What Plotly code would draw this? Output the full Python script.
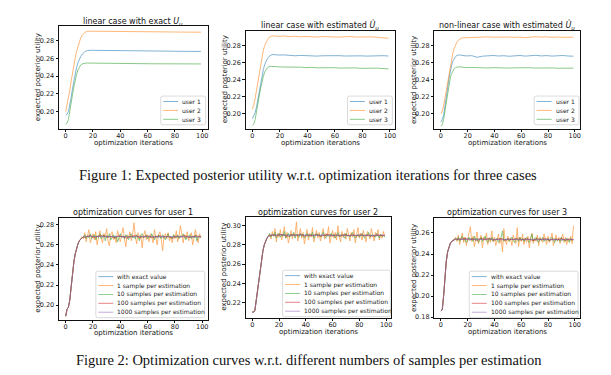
import plotly.graph_objects as go

W, H = 611, 375
COLORS = ['#1f77b4', '#ff7f0e', '#2ca02c', '#d62728', '#9467bd']
FONT = 'DejaVu Sans'

# ---------------- Figure 1 data (top row) ----------------
top_iters = list(range(17)) + list(range(19, 100, 4))

exact_u1 = [0.196, 0.197, 0.200, 0.207, 0.216, 0.226, 0.235, 0.243, 0.250, 0.255, 0.259, 0.262,
            0.2645, 0.2662, 0.2675, 0.2683, 0.2688,
            0.2691, 0.2690, 0.2688, 0.2686, 0.2684, 0.2683, 0.2682, 0.2682, 0.2681, 0.2681, 0.2680,
            0.2680, 0.2680, 0.2680, 0.2679, 0.2679, 0.2679, 0.2679, 0.2679, 0.2678, 0.2678]
exact_u2 = [0.200, 0.207, 0.215, 0.224, 0.234, 0.244, 0.253, 0.261, 0.268, 0.274, 0.279, 0.283,
            0.2858, 0.2878, 0.2892, 0.2900, 0.2904,
            0.2906, 0.2906, 0.2905, 0.2905, 0.2904, 0.2903, 0.2902, 0.2902, 0.2901, 0.2900, 0.2900,
            0.2899, 0.2899, 0.2898, 0.2898, 0.2897, 0.2897, 0.2896, 0.2896, 0.2895, 0.2895]
exact_u3 = [0.186, 0.187, 0.191, 0.199, 0.209, 0.219, 0.228, 0.236, 0.242, 0.247, 0.2505, 0.2525,
            0.2537, 0.2543, 0.2546, 0.2547, 0.2547,
            0.2546, 0.2545, 0.2544, 0.2543, 0.2542, 0.2542, 0.2541, 0.2541, 0.2540, 0.2540, 0.2540,
            0.2539, 0.2539, 0.2539, 0.2539, 0.2538, 0.2538, 0.2538, 0.2538, 0.2538, 0.2537]

lin_est_u1 = [0.194, 0.197, 0.201, 0.208, 0.217, 0.227, 0.237, 0.245, 0.252, 0.258, 0.262, 0.265,
              0.267, 0.2685, 0.2692, 0.2695, 0.2693,
              0.2688, 0.2690, 0.2683, 0.2680, 0.2684, 0.2679, 0.2681, 0.2676, 0.2680, 0.2683, 0.2678,
              0.2681, 0.2677, 0.2680, 0.2684, 0.2679, 0.2676, 0.2680, 0.2678, 0.2681, 0.2677]
lin_est_u2 = [0.205, 0.210, 0.218, 0.228, 0.239, 0.250, 0.260, 0.268, 0.275, 0.280, 0.284, 0.287,
              0.2893, 0.2905, 0.2912, 0.2914, 0.2912,
              0.2908, 0.2912, 0.2905, 0.2909, 0.2903, 0.2907, 0.2904, 0.2900, 0.2906, 0.2902, 0.2905,
              0.2899, 0.2903, 0.2906, 0.2900, 0.2903, 0.2898, 0.2902, 0.2896, 0.2890, 0.2885]
lin_est_u3 = [0.186, 0.188, 0.193, 0.201, 0.211, 0.221, 0.230, 0.238, 0.244, 0.249, 0.252, 0.2540,
              0.2550, 0.2555, 0.2556, 0.2554, 0.2552,
              0.2550, 0.2547, 0.2549, 0.2543, 0.2546, 0.2540, 0.2544, 0.2538, 0.2541, 0.2537, 0.2540,
              0.2535, 0.2538, 0.2534, 0.2537, 0.2532, 0.2535, 0.2531, 0.2534, 0.2529, 0.2526]

nl_est_u1 = [0.190, 0.193, 0.198, 0.207, 0.218, 0.230, 0.241, 0.250, 0.257, 0.262, 0.265, 0.267,
             0.2685, 0.2692, 0.2690, 0.2686, 0.2682,
             0.2678, 0.2681, 0.2662, 0.2675, 0.2679, 0.2683, 0.2677, 0.2680, 0.2674, 0.2679, 0.2683,
             0.2676, 0.2680, 0.2685, 0.2678, 0.2682, 0.2676, 0.2679, 0.2683, 0.2677, 0.2675]
nl_est_u2 = [0.200, 0.203, 0.209, 0.218, 0.228, 0.238, 0.248, 0.257, 0.265, 0.272, 0.277, 0.281,
             0.2840, 0.2862, 0.2878, 0.2885, 0.2890,
             0.2893, 0.2897, 0.2895, 0.2899, 0.2902, 0.2898, 0.2901, 0.2897, 0.2900, 0.2896, 0.2899,
             0.2893, 0.2897, 0.2904, 0.2899, 0.2902, 0.2896, 0.2901, 0.2897, 0.2900, 0.2898]
nl_est_u3 = [0.185, 0.187, 0.193, 0.203, 0.215, 0.226, 0.235, 0.242, 0.247, 0.251, 0.2530, 0.2542,
             0.2548, 0.2550, 0.2549, 0.2546, 0.2543,
             0.2540, 0.2543, 0.2539, 0.2541, 0.2536, 0.2540, 0.2537, 0.2539, 0.2535, 0.2538, 0.2540,
             0.2536, 0.2539, 0.2535, 0.2538, 0.2534, 0.2537, 0.2533, 0.2536, 0.2532, 0.2534]

# ---------------- Figure 2 data (bottom row) ----------------
bottom_iters = list(range(100))
sparse_iters = list(range(15)) + list(range(15, 100, 3))

u1_rise = [0.189, 0.196, 0.198, 0.205, 0.218, 0.232, 0.243, 0.251, 0.257, 0.261, 0.264, 0.266, 0.267, 0.2675, 0.268]
u2_rise = [0.210, 0.210, 0.212, 0.222, 0.234, 0.246, 0.257, 0.266, 0.274, 0.280, 0.284, 0.287, 0.289, 0.2897, 0.290]
u3_rise = [0.186, 0.187, 0.200, 0.218, 0.233, 0.242, 0.247, 0.250, 0.252, 0.253, 0.2535, 0.254, 0.2542, 0.2541, 0.254]

u1_s1 = [0.189, 0.196, 0.198, 0.205, 0.218, 0.232, 0.243, 0.251, 0.257, 0.261,
         0.264, 0.266, 0.268, 0.266, 0.272, 0.263, 0.270, 0.275, 0.262, 0.268,
         0.271, 0.265, 0.273, 0.260, 0.269, 0.274, 0.266, 0.262, 0.271, 0.268,
         0.276, 0.264, 0.259, 0.270, 0.273, 0.265, 0.268, 0.262, 0.274, 0.269,
         0.263, 0.271, 0.277, 0.266, 0.258, 0.270, 0.267, 0.273, 0.264, 0.270,
         0.282, 0.268, 0.261, 0.272, 0.266, 0.270, 0.257, 0.269, 0.274, 0.265,
         0.270, 0.263, 0.271, 0.268, 0.262, 0.275, 0.267, 0.260, 0.270, 0.273,
         0.265, 0.254, 0.269, 0.271, 0.266, 0.272, 0.264, 0.268, 0.262, 0.270,
         0.266, 0.274, 0.263, 0.269, 0.279, 0.268, 0.262, 0.270, 0.266, 0.273,
         0.264, 0.269, 0.272, 0.260, 0.270, 0.275, 0.267, 0.262, 0.271, 0.268]
u1_s10 = [0.189, 0.196, 0.198, 0.205, 0.218, 0.232, 0.243, 0.251, 0.257, 0.261,
          0.264, 0.266, 0.267, 0.268, 0.270, 0.266, 0.269, 0.267, 0.271, 0.266,
          0.268, 0.270, 0.265, 0.269, 0.267, 0.271, 0.266, 0.268, 0.270, 0.264,
          0.269, 0.267, 0.271, 0.265, 0.268, 0.270, 0.266, 0.269, 0.263, 0.268,
          0.271, 0.267, 0.269, 0.266, 0.270, 0.268, 0.265, 0.269, 0.271, 0.267,
          0.268, 0.266, 0.270, 0.268, 0.264, 0.269, 0.271, 0.267, 0.268, 0.270,
          0.266, 0.269, 0.267, 0.271, 0.268, 0.265, 0.269, 0.267, 0.270, 0.268,
          0.266, 0.270, 0.268, 0.265, 0.269, 0.271, 0.267, 0.268, 0.266, 0.270,
          0.268, 0.267, 0.270, 0.266, 0.269, 0.268, 0.271, 0.267, 0.265, 0.269,
          0.268, 0.270, 0.266, 0.269, 0.267, 0.270, 0.264, 0.268, 0.269, 0.267]
u1_exact_tail = [0.2682, 0.2684, 0.2684, 0.2683, 0.2683, 0.2682, 0.2682, 0.2681, 0.2681, 0.2681,
                 0.2681, 0.2680, 0.2680, 0.2680, 0.2680, 0.2680, 0.2680, 0.2679, 0.2679, 0.2679,
                 0.2679, 0.2679, 0.2679, 0.2679, 0.2678, 0.2678, 0.2678, 0.2678, 0.2678]
u1_s100_tail = [0.2680, 0.2692, 0.2671, 0.2686, 0.2695, 0.2674, 0.2683, 0.2669, 0.2690, 0.2678,
                0.2665, 0.2684, 0.2693, 0.2672, 0.2681, 0.2688, 0.2670, 0.2679, 0.2691, 0.2675,
                0.2684, 0.2668, 0.2686, 0.2677, 0.2694, 0.2673, 0.2682, 0.2689, 0.2676]
u1_s1000_tail = [0.2683, 0.2686, 0.2680, 0.2684, 0.2679, 0.2685, 0.2681, 0.2678, 0.2684, 0.2680,
                 0.2683, 0.2677, 0.2682, 0.2685, 0.2679, 0.2681, 0.2684, 0.2678, 0.2682, 0.2680,
                 0.2683, 0.2677, 0.2681, 0.2684, 0.2679, 0.2682, 0.2678, 0.2681, 0.2680]

u2_s1 = [0.210, 0.210, 0.212, 0.222, 0.234, 0.246, 0.257, 0.266, 0.274, 0.280,
         0.284, 0.287, 0.289, 0.291, 0.286, 0.294, 0.289, 0.297, 0.283, 0.292,
         0.288, 0.296, 0.285, 0.291, 0.299, 0.287, 0.293, 0.282, 0.290, 0.295,
         0.286, 0.292, 0.289, 0.304, 0.284, 0.291, 0.297, 0.287, 0.293, 0.281,
         0.290, 0.296, 0.285, 0.292, 0.288, 0.298, 0.283, 0.291, 0.295, 0.287,
         0.293, 0.284, 0.290, 0.297, 0.286, 0.292, 0.289, 0.299, 0.282, 0.291,
         0.295, 0.287, 0.293, 0.285, 0.300, 0.289, 0.283, 0.294, 0.288, 0.292,
         0.286, 0.297, 0.290, 0.284, 0.293, 0.288, 0.296, 0.282, 0.291, 0.298,
         0.287, 0.292, 0.285, 0.295, 0.289, 0.283, 0.294, 0.290, 0.286, 0.297,
         0.288, 0.284, 0.293, 0.289, 0.296, 0.285, 0.291, 0.287, 0.294, 0.289]
u2_s10 = [0.210, 0.210, 0.212, 0.222, 0.234, 0.246, 0.257, 0.266, 0.274, 0.280,
          0.284, 0.287, 0.289, 0.292, 0.288, 0.291, 0.289, 0.293, 0.287, 0.290,
          0.292, 0.288, 0.291, 0.289, 0.294, 0.287, 0.290, 0.292, 0.288, 0.291,
          0.289, 0.293, 0.287, 0.291, 0.290, 0.288, 0.292, 0.289, 0.291, 0.287,
          0.290, 0.292, 0.288, 0.291, 0.289, 0.293, 0.287, 0.290, 0.292, 0.289,
          0.291, 0.288, 0.290, 0.293, 0.289, 0.287, 0.291, 0.290, 0.288, 0.292,
          0.289, 0.291, 0.287, 0.290, 0.293, 0.288, 0.290, 0.291, 0.289, 0.287,
          0.292, 0.289, 0.290, 0.288, 0.291, 0.293, 0.289, 0.287, 0.290, 0.291,
          0.288, 0.290, 0.292, 0.289, 0.287, 0.291, 0.290, 0.293, 0.288, 0.290,
          0.291, 0.289, 0.288, 0.292, 0.290, 0.287, 0.291, 0.289, 0.290, 0.288]
u2_exact_tail = [0.2903, 0.2905, 0.2905, 0.2904, 0.2904, 0.2903, 0.2903, 0.2902, 0.2902, 0.2901,
                 0.2901, 0.2901, 0.2900, 0.2900, 0.2900, 0.2899, 0.2899, 0.2899, 0.2899, 0.2898,
                 0.2898, 0.2898, 0.2898, 0.2897, 0.2897, 0.2897, 0.2897, 0.2897, 0.2896]
u2_s100_tail = [0.2905, 0.2893, 0.2910, 0.2899, 0.2888, 0.2906, 0.2896, 0.2911, 0.2891, 0.2902,
                0.2895, 0.2908, 0.2889, 0.2900, 0.2907, 0.2894, 0.2903, 0.2890, 0.2909, 0.2897,
                0.2904, 0.2892, 0.2906, 0.2896, 0.2901, 0.2888, 0.2905, 0.2898, 0.2900]
u2_s1000_tail = [0.2902, 0.2899, 0.2904, 0.2900, 0.2897, 0.2903, 0.2899, 0.2905, 0.2898, 0.2901,
                 0.2896, 0.2902, 0.2899, 0.2904, 0.2898, 0.2901, 0.2897, 0.2903, 0.2900, 0.2896,
                 0.2902, 0.2899, 0.2904, 0.2898, 0.2901, 0.2897, 0.2902, 0.2899, 0.2900]

u3_s1 = [0.186, 0.187, 0.200, 0.218, 0.233, 0.242, 0.247, 0.250, 0.252, 0.253,
         0.254, 0.256, 0.252, 0.258, 0.249, 0.255, 0.260, 0.251, 0.256, 0.248,
         0.254, 0.259, 0.266, 0.252, 0.257, 0.247, 0.255, 0.261, 0.250, 0.254,
         0.258, 0.246, 0.256, 0.253, 0.260, 0.249, 0.255, 0.251, 0.262, 0.252,
         0.256, 0.248, 0.254, 0.259, 0.250, 0.255, 0.242, 0.264, 0.253, 0.249,
         0.257, 0.252, 0.255, 0.248, 0.258, 0.253, 0.250, 0.265, 0.247, 0.256,
         0.252, 0.259, 0.249, 0.255, 0.251, 0.257, 0.246, 0.254, 0.260, 0.250,
         0.255, 0.252, 0.258, 0.248, 0.256, 0.253, 0.251, 0.259, 0.254, 0.249,
         0.257, 0.251, 0.255, 0.260, 0.248, 0.254, 0.258, 0.252, 0.256, 0.250,
         0.254, 0.259, 0.251, 0.256, 0.249, 0.255, 0.252, 0.257, 0.250, 0.267]
u3_s10 = [0.186, 0.187, 0.200, 0.218, 0.233, 0.242, 0.247, 0.250, 0.252, 0.253,
          0.254, 0.255, 0.253, 0.256, 0.252, 0.254, 0.257, 0.253, 0.255, 0.251,
          0.254, 0.256, 0.253, 0.255, 0.252, 0.257, 0.253, 0.255, 0.251, 0.254,
          0.256, 0.252, 0.254, 0.257, 0.253, 0.251, 0.255, 0.253, 0.256, 0.252,
          0.254, 0.253, 0.255, 0.251, 0.254, 0.256, 0.262, 0.252, 0.254, 0.253,
          0.255, 0.252, 0.254, 0.256, 0.253, 0.251, 0.255, 0.254, 0.252, 0.256,
          0.253, 0.255, 0.252, 0.254, 0.256, 0.253, 0.251, 0.255, 0.259, 0.252,
          0.254, 0.256, 0.253, 0.251, 0.255, 0.253, 0.256, 0.252, 0.254, 0.253,
          0.255, 0.252, 0.254, 0.256, 0.253, 0.251, 0.255, 0.253, 0.254, 0.252,
          0.256, 0.253, 0.254, 0.252, 0.255, 0.253, 0.251, 0.255, 0.253, 0.254]
u3_exact_tail = [0.2543, 0.2544, 0.2543, 0.2542, 0.2542, 0.2541, 0.2541, 0.2540, 0.2540, 0.2540,
                 0.2539, 0.2539, 0.2539, 0.2538, 0.2538, 0.2538, 0.2538, 0.2537, 0.2537, 0.2537,
                 0.2537, 0.2536, 0.2536, 0.2536, 0.2536, 0.2536, 0.2535, 0.2535, 0.2535]
u3_s100_tail = [0.2540, 0.2551, 0.2533, 0.2545, 0.2528, 0.2548, 0.2536, 0.2553, 0.2531, 0.2542,
                0.2549, 0.2529, 0.2544, 0.2537, 0.2552, 0.2532, 0.2546, 0.2539, 0.2527, 0.2547,
                0.2535, 0.2550, 0.2530, 0.2543, 0.2538, 0.2549, 0.2533, 0.2541, 0.2536]
u3_s1000_tail = [0.2540, 0.2537, 0.2542, 0.2538, 0.2535, 0.2541, 0.2537, 0.2543, 0.2536, 0.2539,
                 0.2534, 0.2540, 0.2537, 0.2542, 0.2536, 0.2539, 0.2535, 0.2541, 0.2538, 0.2534,
                 0.2540, 0.2537, 0.2542, 0.2536, 0.2539, 0.2535, 0.2540, 0.2537, 0.2538]

user_labels = ['user 1', 'user 2', 'user 3']
sample_labels = ['with exact value', '1 sample per estimation', '10 samples per estimation',
                 '100 samples per estimation', '1000 samples per estimation']


def px(x):
    return x / W


def py(y):
    return 1 - y / H


# panel layout in pixels: (left, right, top, bottom), y range, y ticks, title, legend box (left, top, width)
panels = [
    dict(box=(51, 200, 18, 122), yr=(0.1807, 0.2967), yt=[0.20, 0.22, 0.24, 0.26, 0.28],
         title='linear case with exact <i>U<sub>u</sub></i>', ty=14, leg=(153, 89, 45)),
    dict(box=(238, 388, 23, 122), yr=(0.1822, 0.2974), yt=[0.20, 0.22, 0.24, 0.26, 0.28],
         title='linear case with estimated <i>Û<sub>u</sub></i>', ty=17, leg=(340, 89, 45)),
    dict(box=(427, 573, 23, 122), yr=(0.1822, 0.2974), yt=[0.20, 0.22, 0.24, 0.26, 0.28],
         title='non-linear case with estimated <i>Û<sub>u</sub></i>', ty=17, leg=(527, 89, 45)),
    dict(box=(51, 200, 212, 315), yr=(0.1856, 0.2869), yt=[0.20, 0.22, 0.24, 0.26, 0.28],
         title='optimization curves for user 1', ty=207, leg=(88, 266, 109)),
    dict(box=(238, 384, 211, 313), yr=(0.2042, 0.3093), yt=[0.22, 0.24, 0.26, 0.28, 0.30],
         title='optimization curves for user 2', ty=207, leg=(275, 265, 108)),
    dict(box=(427, 573, 212, 313), yr=(0.1795, 0.2745), yt=[0.18, 0.20, 0.22, 0.24, 0.26],
         title='optimization curves for user 3', ty=207, leg=(462, 266, 109)),
]

series = [
    [(top_iters, exact_u1), (top_iters, exact_u2), (top_iters, exact_u3)],
    [(top_iters, lin_est_u1), (top_iters, lin_est_u2), (top_iters, lin_est_u3)],
    [(top_iters, nl_est_u1), (top_iters, nl_est_u2), (top_iters, nl_est_u3)],
    [(sparse_iters, u1_rise + u1_exact_tail), (bottom_iters, u1_s1), (bottom_iters, u1_s10),
     (sparse_iters, u1_rise + u1_s100_tail), (sparse_iters, u1_rise + u1_s1000_tail)],
    [(sparse_iters, u2_rise + u2_exact_tail), (bottom_iters, u2_s1), (bottom_iters, u2_s10),
     (sparse_iters, u2_rise + u2_s100_tail), (sparse_iters, u2_rise + u2_s1000_tail)],
    [(sparse_iters, u3_rise + u3_exact_tail), (bottom_iters, u3_s1), (bottom_iters, u3_s10),
     (sparse_iters, u3_rise + u3_s100_tail), (sparse_iters, u3_rise + u3_s1000_tail)],
]

fig = go.Figure()
shapes, annotations = [], []

for i, (p, lines) in enumerate(zip(panels, series), start=1):
    sfx = '' if i == 1 else str(i)
    for k, (xs, ys) in enumerate(lines):
        fig.add_trace(go.Scatter(x=xs, y=ys, mode='lines', showlegend=False, opacity=0.7,
                                 line=dict(color=COLORS[k], width=0.8),
                                 xaxis='x' + sfx, yaxis='y' + sfx))
    l, r, t, b = p['box']
    axis_style = dict(showline=True, mirror=True, linecolor='#111', linewidth=0.8,
                      ticks='outside', ticklen=2.5, tickwidth=0.6, tickcolor='#111',
                      showgrid=False, zeroline=False,
                      tickfont=dict(family=FONT, size=6.5, color='#222'))
    fig.layout['xaxis' + sfx] = dict(domain=[px(l), px(r)], range=[-4.95, 103.95], ticklabelstandoff=-2,
                                     tickvals=[0, 20, 40, 60, 80, 100], anchor='y' + sfx, **axis_style)
    fig.layout['yaxis' + sfx] = dict(domain=[py(b), py(t)], range=list(p['yr']),
                                     tickvals=p['yt'], tickformat='.2f', anchor='x' + sfx, **axis_style)

    cx = (l + r) / 2
    annotations.append(dict(x=px(cx), y=py(p['ty']), xref='paper', yref='paper', text=p['title'],
                            showarrow=False, xanchor='center', yanchor='middle',
                            font=dict(family=FONT, size=8, color='#111')))
    annotations.append(dict(x=px(cx), y=py(b + 14), xref='paper', yref='paper',
                            text='optimization iterations', showarrow=False,
                            xanchor='center', yanchor='middle',
                            font=dict(family=FONT, size=7, color='#111')))
    annotations.append(dict(x=px(l - 21), y=py((t + b) / 2), xref='paper', yref='paper',
                            text='expected posterior utility', showarrow=False, textangle=-90,
                            xanchor='center', yanchor='middle',
                            font=dict(family=FONT, size=7, color='#111')))

    # matplotlib-style legend box
    labels = user_labels if i <= 3 else sample_labels
    gl, gt, gw = p['leg']
    gb = gt + 5.5 + 9 * (len(labels) - 1) + 5.5
    rx, ry = 2 / W, 2 / H
    x0, x1, y0, y1 = px(gl), px(gl + gw), py(gb), py(gt)
    path = (f'M{x0 + rx},{y0} L{x1 - rx},{y0} Q{x1},{y0} {x1},{y0 + ry} L{x1},{y1 - ry} '
            f'Q{x1},{y1} {x1 - rx},{y1} L{x0 + rx},{y1} Q{x0},{y1} {x0},{y1 - ry} '
            f'L{x0},{y0 + ry} Q{x0},{y0} {x0 + rx},{y0} Z')
    shapes.append(dict(type='path', path=path, xref='paper', yref='paper',
                       fillcolor='rgba(255,255,255,0.85)', line=dict(color='#d0d0d0', width=0.8)))
    for k, lab in enumerate(labels):
        yy = py(gt + 5.5 + 9 * k)
        shapes.append(dict(type='line', xref='paper', yref='paper', x0=px(gl + 2.5), x1=px(gl + 17.5),
                           y0=yy, y1=yy, opacity=0.7, line=dict(color=COLORS[k], width=0.8)))
        annotations.append(dict(x=px(gl + 19.5), y=yy, xref='paper', yref='paper', text=lab,
                                showarrow=False, xanchor='left', yanchor='middle',
                                font=dict(family=FONT, size=6, color='#222')))

annotations.append(dict(x=px(300), y=py(169), xref='paper', yref='paper',
                        text='Figure 1: Expected posterior utility w.r.t. optimization iterations for three cases',
                        showarrow=False, xanchor='center', yanchor='middle',
                        font=dict(family='Liberation Serif', size=14.5, color='#111')))
annotations.append(dict(x=px(301), y=py(356), xref='paper', yref='paper',
                        text='Figure 2: Optimization curves w.r.t. different numbers of samples per estimation',
                        showarrow=False, xanchor='center', yanchor='middle',
                        font=dict(family='Liberation Serif', size=14.5, color='#111')))

fig.update_layout(width=W, height=H, margin=dict(l=0, r=0, t=0, b=0),
                  paper_bgcolor='white', plot_bgcolor='white',
                  shapes=shapes, annotations=annotations, showlegend=False)

fig.write_html('out.html')
